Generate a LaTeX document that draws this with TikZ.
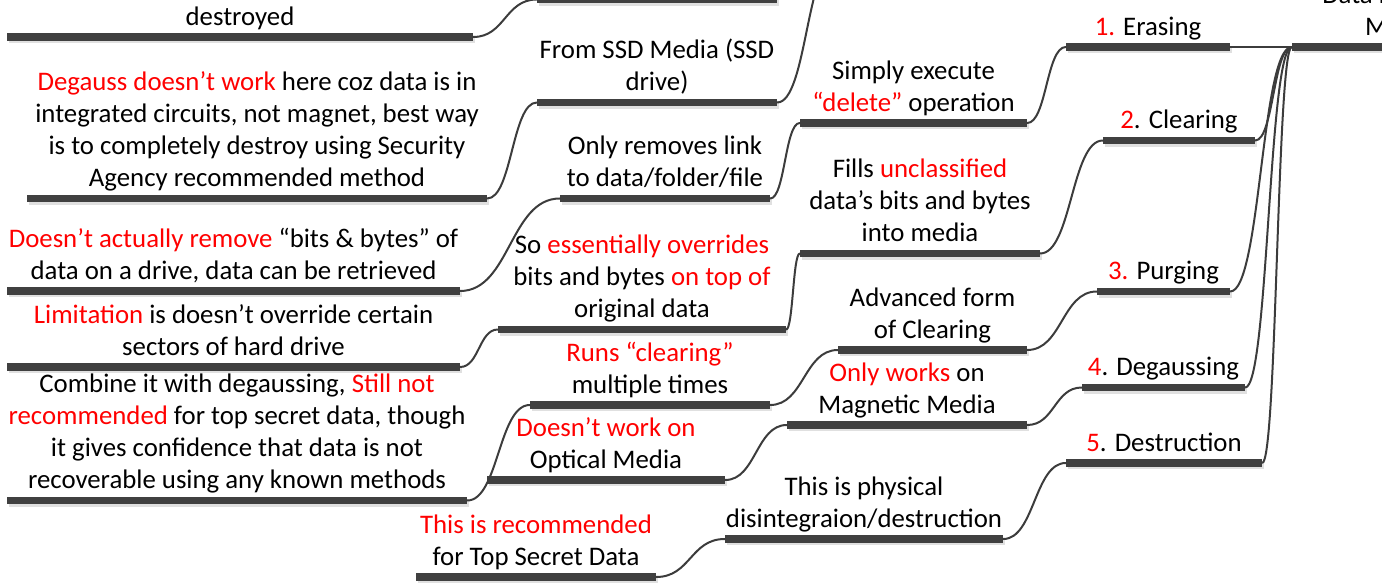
\documentclass[tikz,border=0pt]{standalone}
\usepackage{fontspec}
\setmainfont{Carlito}
\usetikzlibrary{calc,shadows}
\definecolor{barc}{HTML}{404040}
\definecolor{linkc}{HTML}{3C3C3C}
\definecolor{hotred}{HTML}{FF0000}
\newcommand\redtxt[1]{\textcolor{hotred}{#1}}
% topic: bar node plus its centred caption sitting on top of it
% #1 name, #2 left x, #3 right x, #4 bar y, #5 caption
\newcommand\topic[5]{%
  \node[bar, minimum width={(#3)-(#2)}] (#1) at ({((#2)+(#3))/2},#4) {};
  \node[lbl] (#1-txt) at ([yshift=1.9pt]#1.center) {#5\strut};
}
\begin{document}
\begin{tikzpicture}[x=1pt, y=-1pt,
  bar/.style={fill=barc, draw=none, inner sep=0pt, minimum height=7.5pt,
    drop shadow={shadow xshift=1.5pt, shadow yshift=-2.5pt, fill=black, opacity=0.12}},
  lbl/.style={anchor=south, align=center, inner sep=0pt,
    font=\fontsize{26.8}{32}\selectfont},
  link/.style={draw=linkc, line width=2pt, line cap=round,
    to path={let \p1=(\tikztostart), \p2=(\tikztotarget) in
      .. controls ({0.5*\x1+0.5*\x2},\y1) and ({0.5*\x1+0.5*\x2},\y2) .. (\tikztotarget)}}]
\useasboundingbox (0,0) rectangle (1382,585);
\clip (0,0) rectangle (1382,585);

% central topic
\topic{root}{1292}{1536}{47}{Data Destruction\\Methods}

% main methods
\topic{erase}{1066}{1230}{47}{\redtxt{1.} Erasing}
\topic{clear}{1103}{1255}{140.5}{\redtxt{2}. Clearing}
\topic{purge}{1097}{1230}{291.5}{\redtxt{3.} Purging}
\topic{degauss}{1082}{1245}{387.5}{\redtxt{4}. Degaussing}
\topic{destroy}{1066}{1262}{463}{\redtxt{5}. Destruction}

% what each method does
\topic{delop}{800}{1027}{123}{Simply execute\\\redtxt{“delete”} operation}
\topic{fills}{800}{1040}{253.5}{Fills \redtxt{unclassified}\\data’s bits and bytes\\into media}
\topic{advanced}{838}{1027}{350}{Advanced form\\of Clearing}
\topic{magnetic}{787}{1027}{425}{\redtxt{Only works} on\\Magnetic Media}
\topic{physical}{725}{1003}{539}{This is physical\\disintegraion/destruction}

% further detail
\node[bar, minimum width=240] (upper) at (657,-0.5) {};
\coordinate (above) at (836,-40);
\topic{ssd}{537}{777}{102.5}{From SSD Media (SSD\\drive)}
\topic{unlink}{560}{770}{198.5}{Only removes link\\to data/folder/file}
\topic{override}{498}{786}{329.5}{So \redtxt{essentially overrides}\\bits and bytes \redtxt{on top of}\\original data}
\topic{multi}{530}{770}{405}{\redtxt{Runs “clearing”}\\multiple times}
\topic{optical}{487}{725}{480}{\redtxt{Doesn’t work on}\\Optical Media}
\topic{topsecret}{416}{656}{577}{\redtxt{This is recommended}\\for Top Secret Data}

% notes
\topic{shred}{7}{473}{37}{destroyed}
\topic{icnote}{27}{487}{198.5}{\redtxt{Degauss doesn’t work} here coz data is in\\integrated circuits, not magnet, best way\\is to completely destroy using Security\\Agency recommended method}
\topic{remnant}{7}{460}{291}{\redtxt{Doesn’t actually remove} “bits \& bytes” of\\data on a drive, data can be retrieved}
\topic{limit}{7}{460}{367}{\redtxt{Limitation} is doesn’t override certain\\sectors of hard drive}
\topic{combine}{7}{467}{500.5}{Combine it with degaussing, \redtxt{Still not}\\\redtxt{recommended} for top secret data, though\\it gives confidence that data is not\\recoverable using any known methods}

% connectors
\foreach \c in {erase,clear,purge,degauss,destroy}
  \draw[link] (\c.east) to (root.west);
\draw[link] (delop.east) to (erase.west);
\draw[link] (fills.east) to (clear.west);
\draw[link] (advanced.east) to (purge.west);
\draw[link] (magnetic.east) to (degauss.west);
\draw[link] (physical.east) to (destroy.west);
\draw[link] (unlink.east) to (delop.west);
\draw[link] (override.east) to (fills.west);
\draw[link] (multi.east) to (advanced.west);
\draw[link] (optical.east) to (magnetic.west);
\draw[link] (topsecret.east) to (physical.west);
\draw[link] (ssd.east) to (above);
\draw[link] (shred.east) to (upper.west);
\draw[link] (icnote.east) to (ssd.west);
\draw[link] (remnant.east) to (unlink.west);
\draw[link] (limit.east) to (override.west);
\draw[link] (combine.east) to (multi.west);
\end{tikzpicture}
\end{document}
